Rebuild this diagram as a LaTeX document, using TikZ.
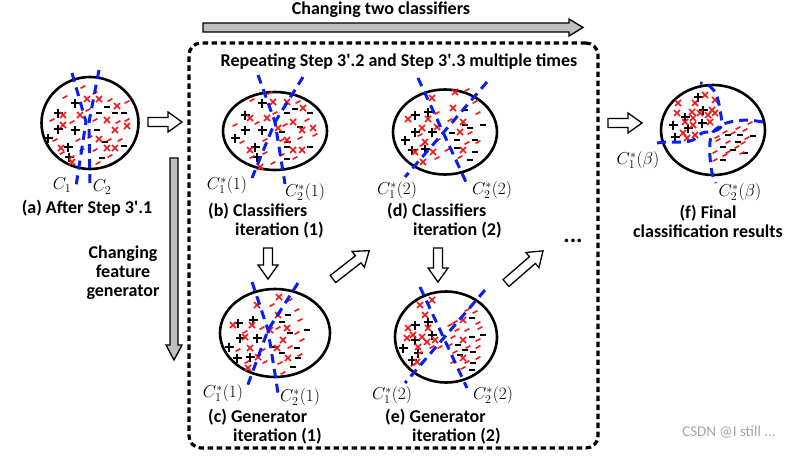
\documentclass[tikz,border=0pt]{standalone}
\usepackage[no-math]{fontspec}
\setmainfont{Carlito}
\usepackage{tikz}
\usetikzlibrary{shapes.geometric}
\definecolor{clsblue}{RGB}{10,30,240}
\definecolor{ptred}{RGB}{250,20,20}
\tikzset{
    region/.style={ellipse, draw=black, line width=2.6pt, inner sep=0pt},
    classifier/.style={draw=clsblue, line width=3pt, dash pattern=on 9pt off 6pt},
    pmark/.style={black, line width=1.8pt},
    nmark/.style={black, line width=1.7pt},
    xmark/.style={ptred, line width=1.6pt},
    dmark/.style={ptred, line width=1.6pt},
    caption/.style={font=\bfseries\fontsize{18}{19}\selectfont, inner sep=0pt},
    clabel/.style={font=\fontsize{17}{18}\selectfont, inner sep=0pt},
    grayarrow/.style={draw=black, fill=gray!50, line width=1.3pt},
    hollow/.style={draw=black, fill=white, line width=1.3pt}
}
\newcommand{\plusmarks}[1]{\foreach \x/\y in {#1} \draw[pmark] (\x-4.5,\y) -- (\x+4.5,\y) (\x,\y-4.5) -- (\x,\y+4.5);}
\newcommand{\minusmarks}[1]{\foreach \x/\y in {#1} \draw[nmark] (\x-3.2,\y) -- (\x+3.2,\y);}
\newcommand{\crossmarks}[1]{\foreach \x/\y in {#1} \draw[xmark] (\x-3,\y-3) -- (\x+3,\y+3) (\x-3,\y+3) -- (\x+3,\y-3);}
\newcommand{\dashmarks}[1]{\foreach \x/\y in {#1} \draw[dmark] (\x-2.4,\y+1.3) -- (\x+2.4,\y-1.3);}
\newcommand{\blockarrow}[3]{\draw[hollow, shift={#1}, rotate=#2] (0,-4.5) -- (#3-14,-4.5) -- (#3-14,-10) -- (#3,0) -- (#3-14,10) -- (#3-14,4.5) -- (0,4.5) -- cycle;}

\begin{document}
\begin{tikzpicture}[x=1pt, y=-1pt]
    \useasboundingbox (0,0) rectangle (810,458);

    % top arrow and loop box
    \node[caption] (twocls) at (381,10) {Changing two classifiers};
    \draw[grayarrow] (203,23) -- (569,23) -- (569,19) -- (583,27.5) -- (569,36) -- (569,32) -- (203,32) -- cycle;
    \node[draw, line width=3.2pt, dash pattern=on 5.5pt off 3.5pt, rounded corners=12pt,
          minimum width=409, minimum height=405, inner sep=0pt] (loopbox) at (393.5,245.5) {};
    \node[caption] (repeat) at (399,62) {Repeating Step 3\textquotesingle.2 and Step 3\textquotesingle.3 multiple times};

    % left arrow
    \draw[grayarrow] (170,158) -- (178,158) -- (178,345) -- (182,345) -- (174,360) -- (166,345) -- (170,345) -- cycle;
    \node[caption, align=center] (fgen) at (123,273) {Changing\\feature\\generator};

    % (a)
    \node[region, minimum width=97, minimum height=92] (ra) at (90,123) {};
    \plusmarks{75/103,58/113,58/129,75/130,48/138,68/147,69/157}
    \minusmarks{99/113,107/107,115/113,124/113,97/130,105/142,102/158,124/146}
    \crossmarks{87/99,99/99,117/106,63/115,80/115,107/120,63/125,115/130,127/126,99/139,107/148,115/148,61/148,72/162}
    \dashmarks{65/97,83/87,95/93,110/100,127/102,52/120,72/122,88/110,95/120,118/122,127/120,55/140,78/140,90/137,109/140,120/140,62/153,82/150,95/150,110/156,72/157,98/163}
    \draw[classifier] (72,73) -- (86,122) -- (76,186);
    \draw[classifier] (99,70) -- (89,122) -- (90,187);
    \node[clabel] (a1) at (62,185) {$C_1$};
    \node[clabel] (a2) at (102,187) {$C_2$};
    \node[caption] (capa) at (87,208) {(a) After Step 3\textquotesingle.1};

    % (b)
    \node[region, minimum width=104, minimum height=78] (rb) at (275,131) {};
    \plusmarks{262/103,245/115,245/130,262/130,235/138,255/147,257/157}
    \minusmarks{287/113,295/109,310/113,300/127,282/132,288/142,287/147,310/147,287/159}
    \crossmarks{273/102,287/102,303/108,250/118,267/118,293/122,278/128,302/130,313/128,250/150,287/140,293/150,302/150,260/167}
    \dashmarks{252/100,270/93,292/95,298/102,235/125,257/123,275/113,285/125,307/120,315/135,242/142,265/140,282/140,300/138,252/157,265/153,282/155,295/158,273/163}
    \draw[classifier] (258,75) -- (275,122) -- (285,184);
    \draw[classifier] (303,77) -- (275,122) -- (252,178);
    \node[clabel] (b1) at (227,185) {$C_1^*(1)$};
    \node[clabel] (b2) at (305,192) {$C_2^*(1)$};
    \node[caption, align=left, anchor=west] (capb) at (208,221) {(b) Classifiers\\\hspace*{27pt}iteration (1)};

    % (c)
    \node[region, minimum width=110, minimum height=88] (rc) at (275,333) {};
    \plusmarks{238/323,253/320,240/338,257/338,229/347,237/358,250/357}
    \minusmarks{288/315,282/322,290/333,307/330,275/347,297/348,282/353,298/358,293/367}
    \crossmarks{279/297,257/305,233/325,252/325,278/315,287/328,245/337,283/340,250/348,277/348,258/357,288/358,248/368,270/330}
    \dashmarks{290/300,297/310,300/320,272/305,278/328,297/333,302/340,245/332,262/328,238/350,263/350,290/347,280/363,265/362,247/362,283/373,300/355}
    \draw[classifier] (252,282) -- (268,330) -- (278,393);
    \draw[classifier] (298,283) -- (268,330) -- (247,387);
    \node[clabel] (c1) at (223,393) {$C_1^*(1)$};
    \node[clabel] (c2) at (300,397) {$C_2^*(1)$};
    \node[caption, align=left, anchor=west] (capc) at (208,427) {(c) Generator\\\hspace*{25pt}iteration (1)};

    % (d)
    \node[region, minimum width=104, minimum height=85] (rd) at (445,132) {};
    \plusmarks{415/115,428/112,415/132,432/132,405/140,412/150,425/149}
    \minusmarks{465/110,465/125,470/128,483/125,452/133,457/140,475/140,457/148,475/152,470/160}
    \crossmarks{455/92,432/98,453/108,408/119,428/119,463/122,422/128,460/132,437/127,425/142,415/152,433/152,463/150,423/162}
    \dashmarks{467/90,475/102,478/113,437/113,450/120,470/133,478/142,438/140,447/150,460/157,437/158,420/135,467/143,422/145}
    \draw[classifier] (418,78) -- (466,182);
    \draw[classifier] (487,82) -- (405,177);
    \node[clabel] (d1) at (397,190) {$C_1^*(2)$};
    \node[clabel] (d2) at (492,190) {$C_2^*(2)$};
    \node[caption, align=left, anchor=west] (capd) at (387,221) {(d) Classifiers\\\hspace*{26pt}iteration (2)};

    % (e)
    \node[region, minimum width=102, minimum height=91] (re) at (446,337) {};
    \plusmarks{415/325,428/322,432/335,415/340,403/348,418/353,412/360}
    \minusmarks{472/318,472/337,483/335,458/345,465/350,473/352,460/355,473/363,472/370}
    \crossmarks{432/300,420/305,425/315,408/328,428/328,422/337,407/338,435/340,418/347,417/362,427/342,413/335,463/320,463/340,463/358}
    \dashmarks{432/347,440/347,420/353,413/365,467/310,475/312,455/322,450/325,478/323,457/330,467/330,480/328,453/337,478/340,450/345,478/347,455/352,468/347,453/362,467/362,478/358,463/368}
    \draw[classifier] (420,287) -- (467,388);
    \draw[classifier] (485,290) -- (405,383);
    \node[clabel] (e1) at (392,395) {$C_1^*(2)$};
    \node[clabel] (e2) at (493,395) {$C_2^*(2)$};
    \node[caption, align=left, anchor=west] (cape) at (385,427) {(e) Generator\\\hspace*{27pt}iteration (2)};

    % (f)
    \node[region, minimum width=104, minimum height=90] (rf) at (713,130) {};
    \plusmarks{698/97,703/110,685/117,702/123,673/125,688/128,675/137}
    \crossmarks{705/95,715/100,678/103,695/103,712/110,677/113,692/112,700/113,708/115,715/113,685/122,710/122,693/125,683/133,695/135,687/138,693/118}
    \minusmarks{728/135,740/135,753/136,738/142,723/147,733/150,745/153,723/160}
    \dashmarks{750/123,738/128,745/130,725/132,733/133,747/138,718/140,728/142,743/143,715/152,737/147,728/152,742/153,725/155,715/160,717/137}
    \draw[classifier] plot[smooth] coordinates {(657,143) (667,142) (683,142) (693,140) (702,133) (708,132) (717,130) (722,125) (720,110) (718,100) (715,92) (708,85) (700,83)};
    \draw[classifier] plot[smooth] coordinates {(763,122) (747,120) (730,122) (722,125) (713,132) (710,142) (710,157) (712,173) (716,183)};
    \node[clabel] (f1) at (638,160) {$C_1^*(\beta)$};
    \node[clabel] (f2) at (740,192) {$C_2^*(\beta)$};
    \node[caption, align=center] (capf) at (708,221) {(f) Final\\classification results};

    % hollow arrows
    \blockarrow{(148,122)}{0}{34}
    \blockarrow{(268,248)}{-90}{31}
    \blockarrow{(333,279)}{38}{46}
    \blockarrow{(438,248)}{-90}{34}
    \blockarrow{(506,283)}{41}{49}
    \blockarrow{(608,123)}{0}{34}
    \node[caption, font=\bfseries\fontsize{24}{24}\selectfont] (more) at (573,241) {...};

    \node[font=\fontsize{15}{16}\selectfont, text=gray!70, inner sep=0pt] (wmark) at (729,432) {CSDN @I still ...};
\end{tikzpicture}
\end{document}
